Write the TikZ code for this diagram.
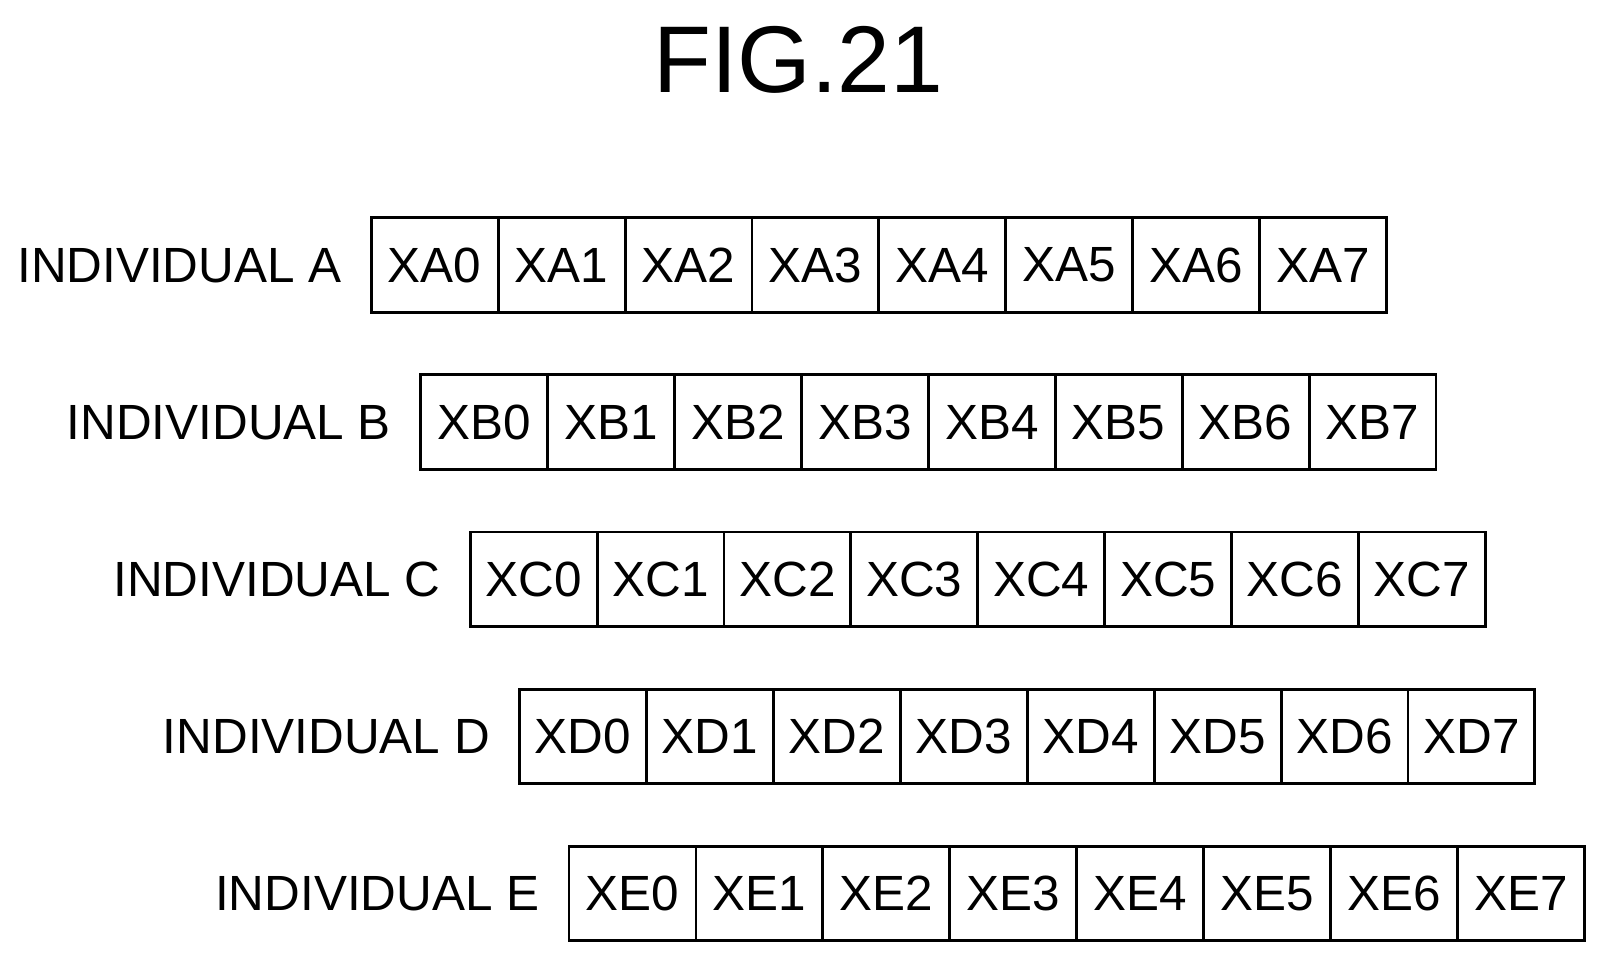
\documentclass[tikz,border=0pt]{standalone}
\usepackage{fontspec}
\setmainfont{Liberation Sans}
\begin{document}
\begin{tikzpicture}[x=0.5pt,y=-0.5pt,
  cell/.style={draw,line width=1.4pt,minimum width=61.6pt,minimum height=46pt,inner sep=0pt,font=\fontsize{24}{24}\selectfont,anchor=north west},
  lab/.style={font=\fontsize{24}{24}\selectfont,anchor=east,inner sep=0pt}]
\useasboundingbox (0,0) rectangle (1560,933);
\node[font=\fontsize{46}{46}\selectfont] (title) at (775,58) {FIG.21};
\foreach \L [count=\r from 0] in {A,B,C,D,E}{
  \pgfmathsetmacro\xo{359+48*\r}
  \pgfmathsetmacro\yo{210+152.5*\r}
  \node[lab] (lab\L) at (\xo-27,\yo+48) {INDIVIDUAL \L};
  \foreach \i in {0,...,7}{
    \node[cell] (c\L\i) at (\xo+123.2*\i,\yo) {X\L\i};
  }
}
\end{tikzpicture}
\end{document}
